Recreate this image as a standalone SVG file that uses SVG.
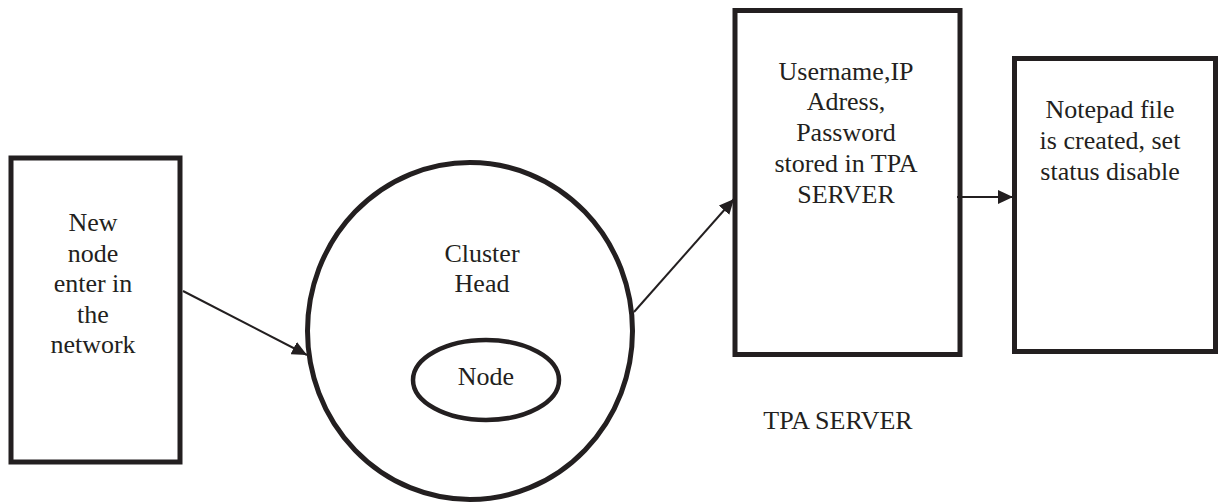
<svg xmlns="http://www.w3.org/2000/svg" width="1218" height="502" viewBox="0 0 1218 502">
<style>
.box{fill:#fff;stroke:#231f20;stroke-width:5}
.ring{fill:none;stroke:#231f20;stroke-width:5}
.conn{stroke:#231f20;stroke-width:2;fill:none}
.t{font-family:'Liberation Serif','DejaVu Serif',serif;font-size:26px;fill:#231f20;text-anchor:middle}
</style>
<defs>
<marker id="arr" viewBox="0 0 15 14" refX="15" refY="7" markerWidth="15" markerHeight="14" markerUnits="userSpaceOnUse" orient="auto">
<path d="M0,0 L15,7 L0,14 Z" fill="#231f20"/>
</marker>
</defs>
<rect width="1218" height="502" fill="#fff"/>
<g id="new-node">
<rect class="box" x="11" y="158" width="169" height="304"/>
<g class="t" font-family="Liberation Serif, DejaVu Serif, serif">
<text x="93" y="231">New</text>
<text x="93" y="262">node</text>
<text x="93" y="292">enter in</text>
<text x="93" y="323">the</text>
<text x="93" y="353">network</text>
</g>
</g>
<g id="cluster-head">
<ellipse class="ring" cx="470" cy="331" rx="162.5" ry="168.5"/>
<g class="t" font-family="Liberation Serif, DejaVu Serif, serif">
<text x="482" y="262">Cluster</text>
<text x="482" y="292">Head</text>
</g>
</g>
<g id="node">
<ellipse class="ring" cx="486" cy="380" rx="73" ry="40" style="stroke-width:4.5"/>
<g class="t" font-family="Liberation Serif, DejaVu Serif, serif">
<text x="486" y="385">Node</text>
</g>
</g>
<g id="tpa-store">
<rect class="box" x="735" y="10.5" width="225" height="344"/>
<g class="t" font-family="Liberation Serif, DejaVu Serif, serif">
<text x="846" y="80">Username,IP</text>
<text x="846" y="110">Adress,</text>
<text x="846" y="141">Password</text>
<text x="846" y="172">stored in TPA</text>
<text x="846" y="203">SERVER</text>
</g>
</g>
<g id="notepad">
<rect class="box" x="1014.5" y="58.5" width="201" height="293"/>
<g class="t" font-family="Liberation Serif, DejaVu Serif, serif">
<text x="1110" y="118">Notepad file</text>
<text x="1110" y="149">is created, set</text>
<text x="1110" y="180">status disable</text>
</g>
</g>
<g id="tpa-label">
<g class="t" font-family="Liberation Serif, DejaVu Serif, serif">
<text x="838" y="429">TPA SERVER</text>
</g>
</g>
<g id="connectors">
<line class="conn" x1="183" y1="291" x2="307" y2="355" marker-end="url(#arr)"/>
<line class="conn" x1="634" y1="312" x2="734" y2="199" marker-end="url(#arr)"/>
<line class="conn" x1="957" y1="197" x2="1013" y2="197" marker-end="url(#arr)"/>
</g>
</svg>
